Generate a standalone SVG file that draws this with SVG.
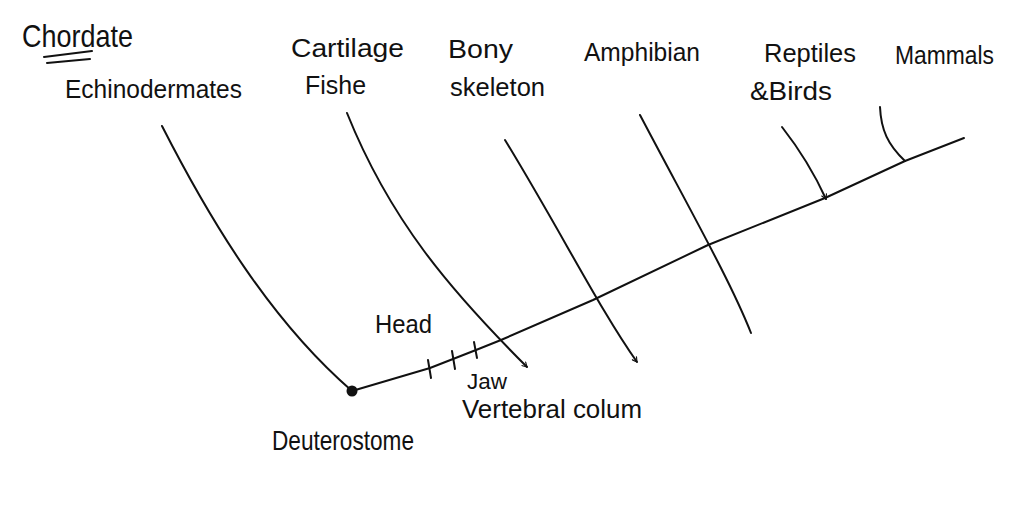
<svg xmlns="http://www.w3.org/2000/svg" width="1024" height="512" viewBox="0 0 1024 512">
<style>
.t{font-family:"Liberation Sans","DejaVu Sans",sans-serif;fill:#111;font-size:26px}
.big{font-size:32px}
.mid{font-size:28px}
.sm{font-size:22px}
.l{fill:none;stroke:#111;stroke-width:2;stroke-linecap:round;stroke-linejoin:round}
</style>
<defs>
<marker id="a" viewBox="0 0 10 10" refX="9" refY="5" markerWidth="7" markerHeight="7" orient="auto" markerUnits="userSpaceOnUse">
<path d="M2 1 L9 5 L2 9" fill="none" stroke="#111" stroke-width="1.6"/>
</marker>
</defs>
<rect width="1024" height="512" fill="#fff"/>
<g id="title">
<text class="t big" x="22" y="47" textLength="111" lengthAdjust="spacingAndGlyphs">Chordate</text>
<path class="l" d="M44 57 L92 51 M47 63 L90 59"/>
</g>
<g id="connectors">
<path class="l" d="M352 391 L430 368 L476 350 L501 340 L593 300 L708 245 L825 198 L905 161 L964 138"/>
<path class="l" d="M162 126 C210 220 270 320 352 391"/>
<path class="l" d="M347 113 C390 220 450 290 527 367" marker-end="url(#a)"/>
<path class="l" d="M505 140 C560 230 600 310 637 362" marker-end="url(#a)"/>
<path class="l" d="M640 115 C690 210 730 280 751 333"/>
<path class="l" d="M782 127 C800 150 815 175 826 199" marker-end="url(#a)"/>
<path class="l" d="M880 107 C881 130 888 145 905 161"/>
<path class="l" d="M428 360 L431 378 M452 351 L455 369 M474 342 L477 358"/>
</g>
<g id="deuterostome">
<circle cx="352" cy="391" r="5.5" fill="#111"/>
<text class="t mid" x="272" y="450" textLength="142" lengthAdjust="spacingAndGlyphs">Deuterostome</text>
</g>
<g id="echinodermates"><text class="t" x="65" y="98" textLength="177" lengthAdjust="spacingAndGlyphs">Echinodermates</text></g>
<g id="cartilage">
<text class="t" x="291" y="57" textLength="113" lengthAdjust="spacingAndGlyphs">Cartilage</text>
<text class="t" x="305" y="94" textLength="61" lengthAdjust="spacingAndGlyphs">Fishe</text>
</g>
<g id="bony">
<text class="t" x="448" y="58" textLength="65" lengthAdjust="spacingAndGlyphs">Bony</text>
<text class="t" x="450" y="96" textLength="95" lengthAdjust="spacingAndGlyphs">skeleton</text>
</g>
<g id="amphibian"><text class="t" x="584" y="61" textLength="116" lengthAdjust="spacingAndGlyphs">Amphibian</text></g>
<g id="reptiles">
<text class="t" x="764" y="62" textLength="92" lengthAdjust="spacingAndGlyphs">Reptiles</text>
<text class="t" x="750" y="100" textLength="82" lengthAdjust="spacingAndGlyphs">&amp;Birds</text>
</g>
<g id="mammals"><text class="t" x="895" y="64" textLength="99" lengthAdjust="spacingAndGlyphs">Mammals</text></g>
<g id="traits">
<text class="t" x="375" y="333" textLength="57" lengthAdjust="spacingAndGlyphs">Head</text>
<text class="t sm" x="467" y="389" textLength="40" lengthAdjust="spacingAndGlyphs">Jaw</text>
<text class="t" x="462" y="418" textLength="180" lengthAdjust="spacingAndGlyphs">Vertebral colum</text>
</g>
</svg>
